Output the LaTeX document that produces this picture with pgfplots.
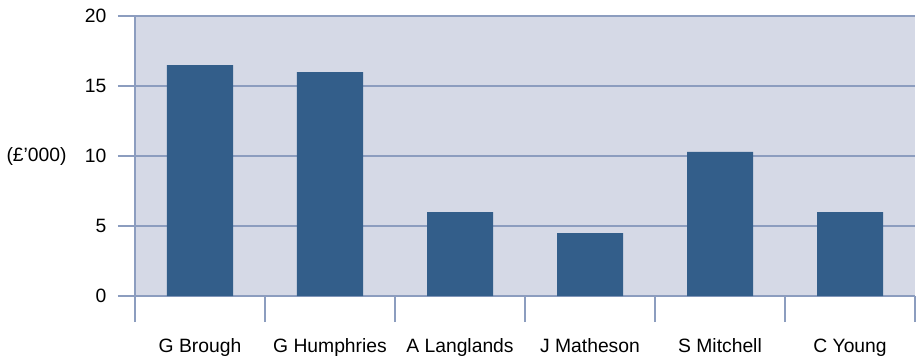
\documentclass[border=0pt]{standalone}
\usepackage{fontspec}
\setmainfont{Liberation Sans}
\usepackage{pgfplots}
\pgfplotsset{compat=1.18}
\definecolor{bgcol}{HTML}{D5D9E6}
\definecolor{barcol}{HTML}{335E8A}
\definecolor{gridcol}{HTML}{8C9DBF}
\begin{document}
\begin{tikzpicture}[font=\fontsize{19.3}{23}\selectfont]
\begin{axis}[
  at={(0pt,0pt)}, anchor=south west,
  scale only axis, width=780pt, height=280pt,
  xmin=-0.5, xmax=5.5, ymin=0, ymax=20,
  axis x line=bottom, axis y line=left,
  axis line style={-, gridcol, line width=1.3pt},
  axis background/.style={fill=bgcol},
  ytick={0,5,10,15,20},
  ymajorgrids, grid style={gridcol, line width=1.3pt},
  xtick={0,1,2,3,4,5},
  xticklabels={G Brough,G Humphries,A Langlands,J Matheson,S Mitchell,C Young},
  minor xtick={-0.5,0.5,1.5,2.5,3.5,4.5,5.5},
  tick align=outside,
  x tick style={draw=none},
  minor x tick style={draw=gridcol, line width=1.3pt},
  minor tick length=26pt,
  y tick style={gridcol, line width=1.3pt},
  major tick length=17pt,
  xticklabel style={anchor=north, yshift=-22pt},
  yticklabel style={anchor=east, xshift=-8pt},
  /pgf/number format/assume math mode=true,
  ylabel={(£’000)},
  every axis y label/.style={at={(axis description cs:0,0.5)}, anchor=west, xshift=-132pt},
  clip=false,
]
\addplot[ybar, bar width=66pt, fill=barcol, draw=none] coordinates {
 (0,16.5) (1,16.0) (2,6.0) (3,4.5) (4,10.3) (5,6.0)
};
\end{axis}
\pgfresetboundingbox
\path (-135pt,-64pt) rectangle (782pt,296pt);
\end{tikzpicture}
\end{document}
